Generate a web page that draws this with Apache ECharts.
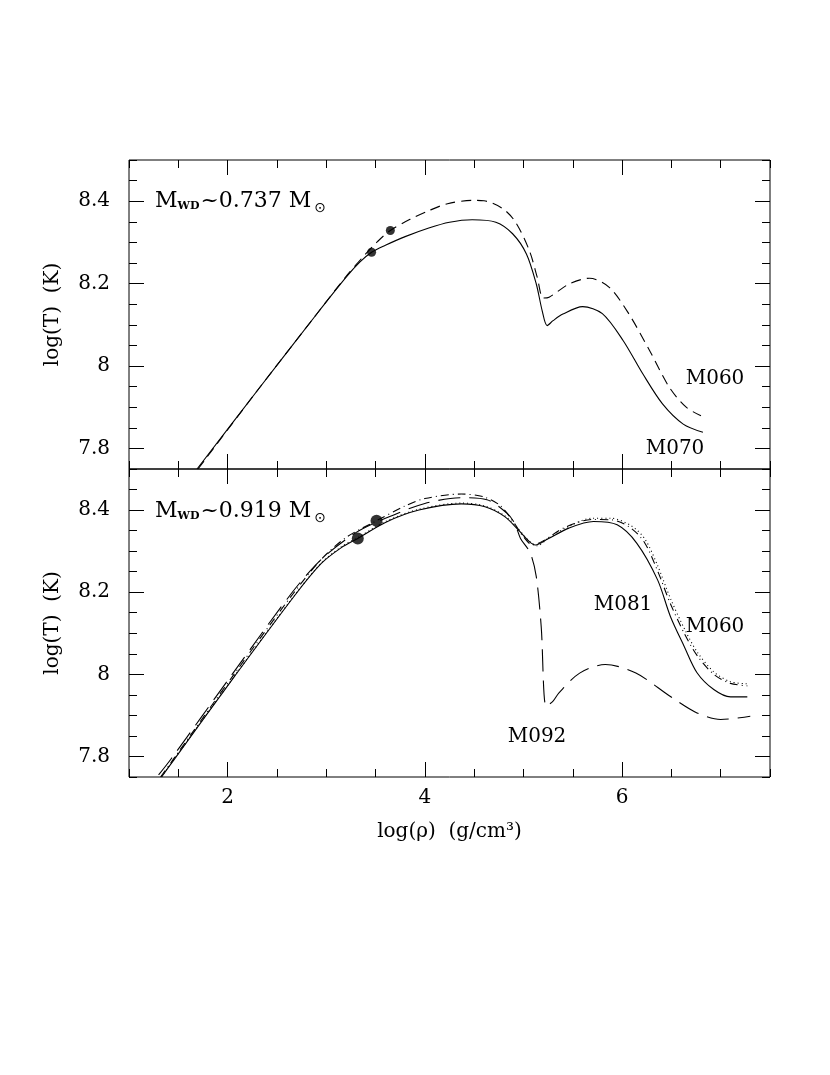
<!DOCTYPE html>
<html>
<head>
<meta charset="utf-8">
<title>log T vs log rho</title>
<script src="https://cdn.jsdelivr.net/npm/echarts@6/dist/echarts.min.js"></script>
<style>
	html, body { margin: 0; padding: 0; background: #fff; }
	#chart { width: 830px; height: 1075px; }
</style>
</head>
<body>
<div id="chart"></div>
<script>
// axis ranges and tick labels
var xMin = 1, xMax = 7.5;
var yMin = 7.75, yMax = 8.5;
var xMajorTicks = [2, 4, 6];
var yMajorTicks = [7.8, 8.0, 8.2, 8.4];
var xMinorStep = 0.5;
var yMinorStep = 0.05;

// top panel, M_WD ~ 0.737
var topM070 = [[1.69,7.75],[2.3,7.94],[2.9,8.125],[3.2,8.215],[3.34,8.252],[3.46,8.276],[3.6,8.293],[3.8,8.314],[4.04,8.335],[4.25,8.349],[4.48,8.355],[4.72,8.349],[4.89,8.321],[5.03,8.272],[5.13,8.199],[5.19,8.134],[5.24,8.098],[5.3,8.11],[5.4,8.126],[5.6,8.144],[5.8,8.127],[6.01,8.062],[6.21,7.981],[6.41,7.908],[6.62,7.859],[6.82,7.839]];
var topM060 = [[1.7,7.75],[2.3,7.94],[2.9,8.125],[3.2,8.217],[3.4,8.272],[3.52,8.302],[3.65,8.329],[3.85,8.356],[4.04,8.377],[4.23,8.394],[4.48,8.402],[4.6,8.401],[4.79,8.382],[4.92,8.349],[5.06,8.28],[5.14,8.215],[5.2,8.165],[5.26,8.167],[5.47,8.2],[5.67,8.213],[5.87,8.191],[6.07,8.126],[6.28,8.037],[6.48,7.948],[6.65,7.9],[6.8,7.879]];
var topDots = [[3.46,8.276],[3.65,8.329]];

// bottom panel, M_WD ~ 0.919
var botM081 = [[1.33,7.75],[1.45,7.79],[2.07,7.995],[2.69,8.195],[2.95,8.27],[3.15,8.308],[3.32,8.331],[3.6,8.37],[3.94,8.4],[4.37,8.415],[4.61,8.408],[4.81,8.384],[4.95,8.351],[5.06,8.323],[5.12,8.315],[5.25,8.33],[5.46,8.356],[5.71,8.372],[5.95,8.364],[6.15,8.319],[6.36,8.23],[6.49,8.141],[6.63,8.068],[6.76,8.004],[6.93,7.963],[7.1,7.945],[7.27,7.945]];
var botM060 = [[1.33,7.751],[1.45,7.791],[2.07,7.996],[2.69,8.196],[2.95,8.271],[3.15,8.31],[3.32,8.333],[3.6,8.372],[3.94,8.402],[4.37,8.417],[4.61,8.41],[4.81,8.386],[4.95,8.353],[5.06,8.324],[5.14,8.313],[5.25,8.331],[5.46,8.36],[5.69,8.38],[5.89,8.38],[6.09,8.362],[6.23,8.33],[6.36,8.265],[6.49,8.185],[6.63,8.112],[6.76,8.055],[6.93,8.006],[7.1,7.982],[7.27,7.977]];
var botDashDot = [[1.32,7.75],[1.44,7.79],[2.05,7.995],[2.66,8.195],[2.95,8.28],[3.2,8.333],[3.51,8.374],[3.8,8.41],[4.0,8.428],[4.37,8.439],[4.6,8.432],[4.76,8.412],[4.86,8.384],[4.93,8.36],[5.0,8.335],[5.09,8.315],[5.2,8.325],[5.42,8.358],[5.7,8.377],[5.9,8.376],[6.09,8.356],[6.23,8.32],[6.36,8.252],[6.49,8.172],[6.63,8.1],[6.76,8.046],[6.93,8.0],[7.1,7.978],[7.27,7.972]];
var botM092 = [[1.3,7.755],[1.43,7.795],[2.04,7.998],[2.65,8.198],[2.95,8.28],[3.3,8.345],[3.6,8.38],[4.0,8.416],[4.37,8.43],[4.63,8.425],[4.83,8.393],[4.91,8.368],[4.97,8.331],[5.07,8.295],[5.13,8.238],[5.18,8.116],[5.23,7.922],[5.3,7.935],[5.36,7.955],[5.57,8.003],[5.83,8.024],[6.14,8.003],[6.49,7.946],[6.76,7.906],[7.0,7.89],[7.3,7.898]];
var botDots = [[3.32,8.331],[3.51,8.374]];

var FONT = 'DejaVu Serif';
var INK = '#000';

function xAxisPair(grid, pos, labels) {
	var base = {
		type: 'value', gridIndex: grid, position: pos, min: xMin, max: xMax,
		axisLine: {show: false, onZero: false}, splitLine: {show: false}
	};
	var major = Object.assign({}, base, {
		axisTick: {show: true, inside: true, length: 15, customValues: xMajorTicks, lineStyle: {color: INK, width: 1}},
		axisLabel: {show: labels, customValues: xMajorTicks, margin: 11, color: INK, fontFamily: FONT, fontSize: 20}
	});
	if (labels) {
		major.name = 'log(ρ)  (g/cm³)';
		major.nameLocation = 'middle';
		major.nameGap = 45;
		major.nameTextStyle = {color: INK, fontFamily: FONT, fontSize: 20};
	}
	var minor = Object.assign({}, base, {
		interval: xMinorStep,
		axisTick: {show: true, inside: true, length: 8, lineStyle: {color: INK, width: 1}},
		axisLabel: {show: false}
	});
	return [major, minor];
}

function yAxisPair(grid, pos, labels) {
	var base = {
		type: 'value', gridIndex: grid, position: pos, min: yMin, max: yMax,
		axisLine: {show: false, onZero: false}, splitLine: {show: false}
	};
	var major = Object.assign({}, base, {
		axisTick: {show: true, inside: true, length: 15, customValues: yMajorTicks, lineStyle: {color: INK, width: 1}},
		axisLabel: {show: labels, customValues: yMajorTicks, margin: 19, color: INK, fontFamily: FONT, fontSize: 20}
	});
	if (labels) {
		major.name = 'log(T)  (K)';
		major.nameLocation = 'middle';
		major.nameRotate = 90;
		major.nameGap = 66;
		major.nameTextStyle = {color: INK, fontFamily: FONT, fontSize: 20};
	}
	var minor = Object.assign({}, base, {
		interval: yMinorStep,
		axisTick: {show: true, inside: true, length: 8, lineStyle: {color: INK, width: 1}},
		axisLabel: {show: false}
	});
	return [major, minor];
}

function curve(name, data, xi, yi, dash) {
	return {
		name: name, type: 'line', xAxisIndex: xi, yAxisIndex: yi, data: data,
		showSymbol: false, smooth: 0.3,
		lineStyle: {color: INK, width: 1.1, type: dash},
		z: 2
	};
}

function dots(data, xi, yi, size) {
	return {
		type: 'scatter', xAxisIndex: xi, yAxisIndex: yi, data: data,
		symbol: 'circle', symbolSize: size, itemStyle: {color: INK}, z: 3
	};
}

function label(text, x, y) {
	return {
		type: 'text', x: x, y: y,
		style: {text: text, fill: INK, font: '20px "DejaVu Serif"', align: 'center', verticalAlign: 'middle'}
	};
}

function massLabel(value, y) {
	return {
		type: 'text', x: 155, y: y,
		style: {
			text: '{m|M}{s|WD}{m|~' + value + ' M}{o|⊙}',
			align: 'left', verticalAlign: 'middle',
			rich: {
				m: {fontFamily: FONT, fontSize: 22, color: INK, lineHeight: 24, verticalAlign: 'bottom'},
				s: {fontFamily: FONT, fontSize: 11, fontWeight: 'bold', color: INK, lineHeight: 24, verticalAlign: 'bottom', padding: [0, 1, 0, 0]},
				o: {fontFamily: 'DejaVu Sans', fontSize: 14, color: INK, lineHeight: 24, verticalAlign: 'bottom', padding: [0, 0, -3, 3]}
			}
		}
	};
}

var option = {
	animation: false,
	backgroundColor: '#fff',
	grid: [
		{left: 129, top: 160, width: 641, height: 309, show: true, borderColor: INK, borderWidth: 1, backgroundColor: 'transparent'},
		{left: 129, top: 469, width: 641, height: 308, show: true, borderColor: INK, borderWidth: 1, backgroundColor: 'transparent'}
	],
	xAxis: [].concat(
		xAxisPair(0, 'bottom', false), xAxisPair(0, 'top', false),
		xAxisPair(1, 'bottom', true), xAxisPair(1, 'top', false)
	),
	yAxis: [].concat(
		yAxisPair(0, 'left', true), yAxisPair(0, 'right', false),
		yAxisPair(1, 'left', true), yAxisPair(1, 'right', false)
	),
	series: [
		curve('M070', topM070, 0, 0, 'solid'),
		curve('M060', topM060, 0, 0, [10, 6]),
		dots(topDots, 0, 0, 9),
		curve('M081', botM081, 4, 4, 'solid'),
		curve('M060', botM060, 4, 4, [1, 3]),
		curve('dashdot', botDashDot, 4, 4, [8, 4, 1, 4]),
		curve('M092', botM092, 4, 4, [22, 9]),
		dots(botDots, 4, 4, 12)
	],
	graphic: [
		massLabel('0.737', 200),
		massLabel('0.919', 510),
		label('M060', 715, 379),
		label('M070', 675, 449),
		label('M081', 623, 605),
		label('M060', 715, 627),
		label('M092', 537, 737)
	]
};

var myChart = echarts.init(document.getElementById('chart'));
myChart.setOption(option);
</script>
</body>
</html>
